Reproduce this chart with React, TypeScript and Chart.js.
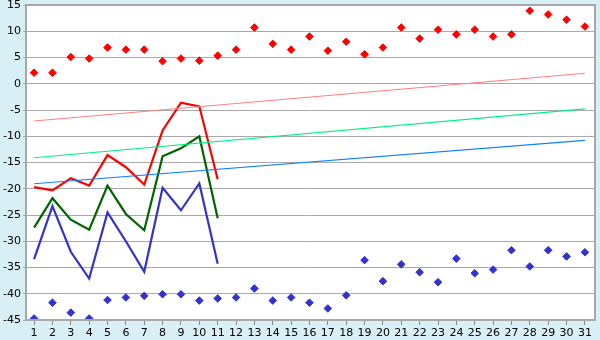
import React, { useEffect, useRef } from "react";
import { Chart, registerables } from "chart.js";
Chart.register(...registerables);

const days = [1, 2, 3, 4, 5, 6, 7, 8, 9, 10, 11, 12, 13, 14, 15, 16, 17, 18, 19, 20, 21, 22, 23, 24, 25, 26, 27, 28, 29, 30, 31];
const highMarks = [2.1, 2.1, 5.1, 4.8, 6.9, 6.5, 6.5, 4.3, 4.8, 4.4, 5.35, 6.5, 10.7, 7.6, 6.5, 9.0, 6.3, 8.0, 5.6, 6.9, 10.7, 8.6, 10.3, 9.4, 10.3, 9.0, 9.4, 13.9, 13.2, 12.2, 10.9];
const lowMarks = [-44.7, -41.7, -43.6, -44.7, -41.2, -40.7, -40.4, -40.1, -40.1, -41.3, -40.9, -40.7, -39.0, -41.3, -40.7, -41.7, -42.8, -40.3, -33.6, -37.6, -34.4, -35.9, -37.8, -33.3, -36.1, -35.4, -31.7, -34.8, -31.7, -32.9, -32.1];
const lineDays = [1, 2, 3, 4, 5, 6, 7, 8, 9, 10, 11];
const redLine = [-19.7, -20.3, -18.0, -19.4, -13.6, -15.9, -19.2, -8.9, -3.6, -4.3, -18.2];
const greenLine = [-27.4, -21.8, -25.9, -27.8, -19.4, -24.8, -27.9, -13.8, -12.3, -10.0, -25.6];
const blueLine = [-33.4, -23.3, -32.0, -37.1, -24.5, -30.0, -35.8, -19.8, -24.1, -19.0, -34.3];
const trendDays = [1, 31];
const pinkTrend = [-7.1, 2.0];
const greenTrend = [-14.1, -4.8];
const blueTrend = [-19.05, -10.8];
const yTicks = [15, 10, 5, 0, -5, -10, -15, -20, -25, -30, -35, -40, -45];

const pts = (xs: number[], ys: number[]) => xs.map((x, i) => ({ x, y: ys[i] }));

const bgPlugin = {
  id: "bgPlugin",
  beforeDraw(chart: any) {
    const { ctx, chartArea: a, width, height } = chart;
    ctx.save();
    ctx.fillStyle = "#d9eff6";
    ctx.fillRect(0, 0, width, height);
    ctx.fillStyle = "#ffffff";
    ctx.fillRect(a.left, a.top, a.right - a.left, a.bottom - a.top);
    ctx.restore();
  },
  afterDraw(chart: any) {
    const { ctx, chartArea: a } = chart;
    ctx.save();
    ctx.strokeStyle = "#a8a8a8";
    ctx.lineWidth = 2;
    ctx.strokeRect(a.left, a.top, a.right - a.left, a.bottom - a.top);
    ctx.restore();
  },
};

export default function App() {
  const ref = useRef<HTMLCanvasElement>(null);
  useEffect(() => {
    document.body.style.margin = "0";
    const lineDs = (label: string, data: any, color: string, width: number) => ({
      label,
      data,
      borderColor: color,
      backgroundColor: color,
      borderWidth: width,
      pointRadius: 0,
      tension: 0,
      showLine: true,
    });
    const markDs = (label: string, data: any, color: string) => ({
      label,
      data,
      borderColor: color,
      backgroundColor: color,
      pointStyle: "rectRot",
      pointRadius: 3.8,
      borderWidth: 1,
      showLine: false,
    });
    const chart = new Chart(ref.current!, {
      type: "line",
      data: {
        datasets: [
          lineDs("pinkTrend", pts(trendDays, pinkTrend), "#ff8080", 1.2),
          lineDs("greenTrend", pts(trendDays, greenTrend), "#00f080", 1.2),
          lineDs("blueTrend", pts(trendDays, blueTrend), "#1080ff", 1.2),
          lineDs("red", pts(lineDays, redLine), "#ff0000", 2.2),
          lineDs("green", pts(lineDays, greenLine), "#006400", 2.2),
          lineDs("blue", pts(lineDays, blueLine), "#3333cc", 2.2),
          markDs("high", pts(days, highMarks), "#ff0000"),
          markDs("low", pts(days, lowMarks), "#3333cc"),
        ] as any,
      },
      options: {
        animation: false,
        responsive: false,
        maintainAspectRatio: false,
        layout: { padding: { left: 0, top: 5, right: 5, bottom: 0 } },
        plugins: { legend: { display: false }, tooltip: { enabled: false } },
        scales: {
          x: {
            type: "linear",
            min: 0.56,
            max: 31.55,
            afterBuildTicks: (s: any) => {
              s.ticks = days.map((v) => ({ value: v }));
            },
            afterFit: (s: any) => {
              s.height = 20;
              s.paddingLeft = 0;
              s.paddingRight = 0;
            },
            grid: { drawOnChartArea: false, tickLength: 5, color: "#888888" },
            border: { display: false },
            ticks: {
              autoSkip: false,
              maxRotation: 0,
              padding: 2,
              color: "#000000",
              font: { family: "DejaVu Sans", size: 11 },
            },
          },
          y: {
            type: "linear",
            min: -45,
            max: 15,
            afterBuildTicks: (s: any) => {
              s.ticks = yTicks.map((v) => ({ value: v }));
            },
            afterFit: (s: any) => {
              s.width = 26;
              s.paddingTop = 0;
              s.paddingBottom = 0;
            },
            grid: { color: "#aaaaaa", lineWidth: 1, tickLength: 3 },
            border: { display: false },
            ticks: {
              padding: 2,
              color: "#000000",
              font: { family: "DejaVu Sans", size: 11 },
            },
          },
        },
      },
      plugins: [bgPlugin],
    });
    return () => chart.destroy();
  }, []);
  return <canvas ref={ref} width={600} height={340} style={{ display: "block" }} />;
}
